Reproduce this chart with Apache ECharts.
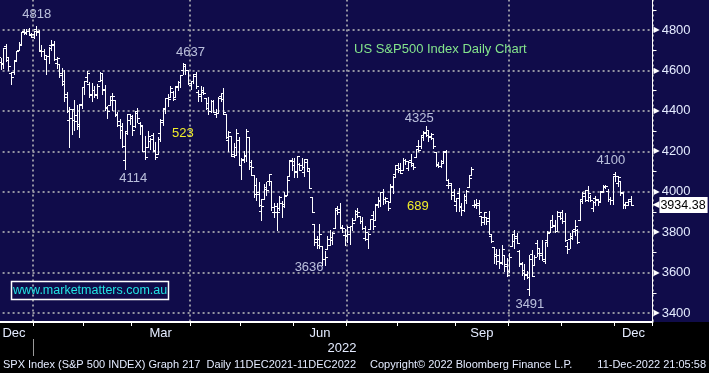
<!DOCTYPE html>
<html><head><meta charset="utf-8">
<script src="https://cdn.jsdelivr.net/npm/echarts@6/dist/echarts.min.js"></script>
<style>
html,body{margin:0;padding:0;width:709px;height:373px;overflow:hidden;background:linear-gradient(to bottom,#100c4a 0px,#100c4a 322px,#000 322px,#000 100%);}
#c{width:709px;height:373px;}
</style></head><body><div id="c"></div>
<script>
// ---------- DATA (SPX daily OHLC) ----------
const dates = [
 '2021-12-13','2021-12-14','2021-12-15','2021-12-16','2021-12-17','2021-12-20','2021-12-21','2021-12-22','2021-12-23','2021-12-27','2021-12-28','2021-12-29','2021-12-30','2021-12-31',
 '2022-01-03','2022-01-04','2022-01-05','2022-01-06','2022-01-07','2022-01-10','2022-01-11','2022-01-12','2022-01-13','2022-01-14','2022-01-18','2022-01-19','2022-01-20','2022-01-21','2022-01-24','2022-01-25','2022-01-26','2022-01-27','2022-01-28','2022-01-31',
 '2022-02-01','2022-02-02','2022-02-03','2022-02-04','2022-02-07','2022-02-08','2022-02-09','2022-02-10','2022-02-11','2022-02-14','2022-02-15','2022-02-16','2022-02-17','2022-02-18','2022-02-22','2022-02-23','2022-02-24','2022-02-25','2022-02-28',
 '2022-03-01','2022-03-02','2022-03-03','2022-03-04','2022-03-07','2022-03-08','2022-03-09','2022-03-10','2022-03-11','2022-03-14','2022-03-15','2022-03-16','2022-03-17','2022-03-18','2022-03-21','2022-03-22','2022-03-23','2022-03-24','2022-03-25','2022-03-28','2022-03-29','2022-03-30','2022-03-31',
 '2022-04-01','2022-04-04','2022-04-05','2022-04-06','2022-04-07','2022-04-08','2022-04-11','2022-04-12','2022-04-13','2022-04-14','2022-04-18','2022-04-19','2022-04-20','2022-04-21','2022-04-22','2022-04-25','2022-04-26','2022-04-27','2022-04-28','2022-04-29',
 '2022-05-02','2022-05-03','2022-05-04','2022-05-05','2022-05-06','2022-05-09','2022-05-10','2022-05-11','2022-05-12','2022-05-13','2022-05-16','2022-05-17','2022-05-18','2022-05-19','2022-05-20','2022-05-23','2022-05-24','2022-05-25','2022-05-26','2022-05-27','2022-05-31',
 '2022-06-01','2022-06-02','2022-06-03','2022-06-06','2022-06-07','2022-06-08','2022-06-09','2022-06-10','2022-06-13','2022-06-14','2022-06-15','2022-06-16','2022-06-17','2022-06-21','2022-06-22','2022-06-23','2022-06-24','2022-06-27','2022-06-28','2022-06-29','2022-06-30',
 '2022-07-01','2022-07-05','2022-07-06','2022-07-07','2022-07-08','2022-07-11','2022-07-12','2022-07-13','2022-07-14','2022-07-15','2022-07-18','2022-07-19','2022-07-20','2022-07-21','2022-07-22','2022-07-25','2022-07-26','2022-07-27','2022-07-28','2022-07-29',
 '2022-08-01','2022-08-02','2022-08-03','2022-08-04','2022-08-05','2022-08-08','2022-08-09','2022-08-10','2022-08-11','2022-08-12','2022-08-15','2022-08-16','2022-08-17','2022-08-18','2022-08-19','2022-08-22','2022-08-23','2022-08-24','2022-08-25','2022-08-26','2022-08-29','2022-08-30','2022-08-31',
 '2022-09-01','2022-09-02','2022-09-06','2022-09-07','2022-09-08','2022-09-09','2022-09-12','2022-09-13','2022-09-14','2022-09-15','2022-09-16','2022-09-19','2022-09-20','2022-09-21','2022-09-22','2022-09-23','2022-09-26','2022-09-27','2022-09-28','2022-09-29','2022-09-30',
 '2022-10-03','2022-10-04','2022-10-05','2022-10-06','2022-10-07','2022-10-10','2022-10-11','2022-10-12','2022-10-13','2022-10-14','2022-10-17','2022-10-18','2022-10-19','2022-10-20','2022-10-21','2022-10-24','2022-10-25','2022-10-26','2022-10-27','2022-10-28','2022-10-31',
 '2022-11-01','2022-11-02','2022-11-03','2022-11-04','2022-11-07','2022-11-08','2022-11-09','2022-11-10','2022-11-11','2022-11-14','2022-11-15','2022-11-16','2022-11-17','2022-11-18','2022-11-21','2022-11-22','2022-11-23','2022-11-25','2022-11-28','2022-11-29','2022-11-30',
 '2022-12-01','2022-12-02','2022-12-05','2022-12-06','2022-12-07','2022-12-08','2022-12-09'
];
const futureDates = ['2022-12-12','2022-12-13','2022-12-14','2022-12-15','2022-12-16','2022-12-19','2022-12-20','2022-12-21'];

const opens = [
 4710,4642,4636,4719,4652,4587,4594,4650,4703,4733,4795,4788,4795,4776,
 4779,4804,4788,4694,4697,4655,4669,4728,4733,4637,4632,4588,4547,4471,4357,4367,4409,4381,4337,4431,
 4519,4567,4535,4482,4505,4480,4547,4553,4506,4412,4429,4456,4456,4385,4332,4325,4156,4298,4354,
 4363,4323,4401,4342,4327,4203,4223,4253,4280,4202,4188,4288,4346,4407,4462,4469,4494,4470,4522,4541,4603,4624,4600,
 4540,4547,4572,4495,4475,4495,4463,4437,4398,4449,4385,4390,4473,4490,4385,4255,4278,4187,4223,4254,
 4130,4160,4181,4270,4129,4081,4035,3991,3904,3963,4013,4052,4051,3900,3927,3919,3943,3929,3985,4077,4151,
 4150,4096,4137,4134,4096,4147,4101,3974,3838,3764,3764,3729,3665,3715,3734,3775,3821,3920,3913,3826,3785,
 3782,3792,3831,3859,3889,3880,3854,3771,3764,3818,3883,3860,3935,3955,3998,3965,3953,3951,4026,4087,
 4113,4105,4108,4155,4116,4155,4134,4170,4227,4226,4269,4290,4280,4273,4266,4195,4134,4126,4153,4198,4034,4041,4000,
 3936,3994,3930,3909,3959,4022,4084,3932,3941,3932,3880,3849,3876,3871,3782,3727,3682,3687,3651,3687,3633,
 3610,3733,3754,3772,3707,3647,3596,3591,3520,3690,3638,3747,3695,3689,3657,3762,3799,3825,3834,3808,3881,
 3901,3853,3733,3767,3780,3817,3810,3859,3963,3977,4007,3976,3920,3967,3957,3956,4001,4024,4005,3964,3957,
 4087,4041,4053,3996,3934,3947,3954
];
const highs = [
 4710,4660,4710,4731,4666,4590,4651,4697,4740,4791,4807,4804,4808,4787,
 4797,4819,4798,4725,4707,4673,4714,4749,4744,4666,4632,4612,4602,4494,4417,4411,4454,4428,4432,4516,
 4546,4595,4542,4540,4521,4531,4590,4588,4527,4426,4472,4490,4456,4395,4362,4341,4295,4385,4385,
 4378,4401,4416,4343,4327,4277,4299,4268,4292,4247,4271,4358,4412,4465,4481,4522,4500,4521,4546,4575,4637,4627,4603,
 4547,4583,4593,4503,4521,4520,4464,4471,4453,4452,4411,4471,4489,4513,4386,4299,4278,4241,4308,4270,
 4169,4200,4308,4270,4158,4081,4068,4050,3965,4038,4047,4089,4051,3945,3944,3981,3955,3999,4076,4158,4168,
 4167,4177,4143,4169,4164,4160,4119,3975,3838,3779,3838,3729,3707,3779,3810,3802,3913,3928,3946,3836,3818,
 3829,3832,3871,3910,3919,3880,3874,3832,3796,3863,3903,3939,3974,3999,4013,3975,3953,4039,4078,4131,
 4144,4141,4168,4161,4151,4187,4135,4211,4258,4280,4301,4325,4302,4292,4266,4196,4149,4156,4200,4204,4062,4044,4015,
 3970,4018,3942,3987,4010,4076,4120,3957,3962,3959,3880,3900,3877,3907,3790,3727,3716,3717,3736,3687,3672,
 3698,3791,3812,3797,3711,3653,3641,3609,3685,3713,3689,3762,3719,3762,3753,3804,3862,3886,3859,3905,3893,
 3911,3894,3751,3796,3813,3860,3818,3958,4001,4009,4028,3983,3954,3979,3962,4004,4034,4034,4012,3976,4080,
 4100,4080,4053,4001,3951,3966,3977
];
const lows = [
 4667,4606,4612,4647,4600,4531,4584,4645,4703,4733,4780,4778,4775,4766,
 4759,4774,4699,4671,4663,4582,4638,4703,4650,4614,4568,4530,4450,4395,4223,4287,4305,4309,4273,4415,
 4483,4544,4470,4451,4471,4465,4547,4484,4402,4364,4429,4405,4373,4327,4268,4221,4114,4287,4335,
 4279,4322,4345,4284,4199,4161,4223,4210,4200,4161,4188,4251,4330,4390,4425,4469,4456,4468,4501,4517,4581,4581,4531,
 4508,4540,4514,4450,4450,4484,4408,4382,4392,4392,4370,4390,4449,4384,4267,4200,4175,4171,4188,4132,
 4062,4145,4153,4114,4081,3975,3959,3928,3859,3963,3982,4034,3912,3877,3810,3909,3875,3925,3985,4077,4105,
 4073,4074,4107,4110,4080,4107,4017,3901,3734,3722,3723,3639,3636,3715,3734,3743,3821,3889,3820,3799,3738,
 3752,3742,3809,3859,3873,3847,3818,3759,3721,3817,3818,3860,3924,3927,3938,3944,3910,3951,3993,4080,
 4097,4092,4108,4135,4107,4128,4114,4170,4201,4218,4257,4277,4253,4263,4218,4129,4124,4120,4147,4057,4017,3965,3954,
 3903,3907,3886,3907,3945,4022,4084,3922,3917,3888,3837,3839,3838,3789,3749,3647,3644,3623,3641,3610,3584,
 3604,3733,3723,3745,3631,3588,3568,3574,3491,3584,3638,3680,3666,3664,3647,3733,3799,3824,3803,3808,3863,
 3843,3758,3699,3721,3764,3786,3744,3859,3944,3956,3953,3955,3906,3933,3933,3956,3998,4020,3955,3937,3940,
 4051,4026,3984,3918,3918,3935,3933
];
const closes = [
 4668,4634,4709,4668,4620,4568,4649,4697,4725,4791,4786,4793,4778,4766,
 4797,4794,4701,4696,4677,4670,4713,4726,4659,4663,4577,4533,4483,4398,4410,4357,4350,4327,4432,4516,
 4546,4589,4477,4501,4484,4522,4587,4504,4419,4401,4472,4475,4380,4349,4305,4225,4288,4385,4374,
 4306,4387,4363,4329,4201,4171,4278,4260,4204,4173,4262,4357,4412,4463,4461,4512,4457,4520,4543,4575,4632,4602,4530,
 4546,4583,4525,4481,4501,4488,4413,4397,4447,4392,4391,4463,4459,4394,4272,4296,4175,4183,4288,4132,
 4155,4175,4300,4147,4123,3991,4001,3935,3930,4024,4008,4089,3924,3901,3901,3974,3941,3979,4058,4158,4132,
 4101,4176,4109,4121,4161,4116,4018,3901,3750,3735,3790,3667,3675,3765,3760,3796,3912,3901,3821,3819,3785,
 3825,3831,3845,3903,3899,3855,3819,3801,3790,3863,3831,3937,3959,3999,3962,3967,3921,4024,4073,4130,
 4119,4091,4155,4152,4145,4140,4122,4210,4207,4280,4297,4305,4275,4284,4228,4138,4128,4141,4200,4057,4031,3986,3955,
 3967,3924,3908,3980,4006,4067,4110,3932,3946,3901,3873,3899,3856,3790,3758,3693,3655,3647,3719,3640,3586,
 3678,3791,3783,3745,3640,3612,3589,3577,3669,3583,3677,3720,3695,3666,3753,3797,3859,3830,3808,3901,3872,
 3856,3760,3719,3771,3807,3828,3749,3956,3993,3957,3992,3959,3947,3965,3950,4003,4027,4026,3964,3958,4080,
 4077,4072,3999,3941,3933,3963,3934.38
];

// y-axis tick values
const yMin = 3200, yMax = 5000, yStep = 200;

// Annotated highs / lows
const annoDates  = ['2022-01-04','2022-03-29','2022-02-24','2022-06-17','2022-08-16','2022-10-13','2022-12-01'];
const annoValues = [4818, 4637, 4114, 3636, 4325, 3491, 4100];

// Move sizes
const moveTexts = ['523', '689'];

const monthNames = {'01':'Jan','02':'Feb','03':'Mar','04':'Apr','05':'May','06':'Jun','07':'Jul','08':'Aug','09':'Sep','10':'Oct','11':'Nov','12':'Dec'};
const labelMonths = ['12','03','06','09'];
const quarterMonths = ['01','04','07','10'];

// ---------- STYLES / LAYOUT ----------
const FONT = '"Liberation Sans", Arial, sans-serif';
const TXT = '#e4ebff';
const GRIDC = '#9494a2';
const PX_PER_UNIT = 283 / 1400;           // 4800 at y=30, 3400 at y=313
const gridTop = 30 - (yMax - 4800) * PX_PER_UNIT;
const gridBottomY = 313 + (3400 - yMin) * PX_PER_UNIT;
const axisY = 322;

const annoStyle = [
  {position:'top', distance:5, offset:[0,0]},
  {position:'top', distance:4, offset:[7,0]},
  {position:'bottom', distance:3, offset:[8,0]},
  {position:'left', distance:1, offset:[0,2]},
  {position:'top', distance:1, offset:[-7,0]},
  {position:'bottom', distance:3, offset:[0,0]},
  {position:'top', distance:4, offset:[-5,0]}
];

// ---------- BUILD ----------
const axisDates = dates.concat(futureDates);
const mOf = d => d.slice(5,7);
const ymOf = d => d.slice(0,7);
const monthStarts = new Set();
const quarterStarts = new Set();
const groups = {};
axisDates.forEach((d,i) => {
  (groups[ymOf(d)] = groups[ymOf(d)] || []).push(i);
  if (i > 0 && ymOf(d) !== ymOf(axisDates[i-1])) {
    monthStarts.add(i);
    if (quarterMonths.includes(mOf(d))) quarterStarts.add(i);
  }
});
const labelIdx = new Set();
Object.keys(groups).forEach(k => {
  if (labelMonths.includes(k.slice(5,7))) {
    const g = groups[k];
    labelIdx.add(g[Math.floor((g.length - 1) / 2)]);
  }
});

const ohlc = dates.map((d,i) => [i, opens[i], highs[i], lows[i], closes[i]]);

function renderItem(params, api) {
  const idx = api.value(0);
  const pH = api.coord([idx, api.value(2)]);
  const pL = api.coord([idx, api.value(3)]);
  const yO = Math.round(api.coord([idx, api.value(1)])[1]);
  const yC = Math.round(api.coord([idx, api.value(4)])[1]);
  const cx = Math.floor(pH[0]);
  const yH = Math.round(pH[1]), yL = Math.round(pL[1]);
  const st = {fill:'#ffffff'};
  return {type:'group', children:[
    {type:'rect', shape:{x:cx, y:yH, width:1, height:Math.max(1, yL - yH + 1)}, style:st},
    {type:'rect', shape:{x:cx-2, y:yO, width:2, height:1}, style:st},
    {type:'rect', shape:{x:cx+1, y:yC, width:2, height:1}, style:st}
  ]};
}

const chart = echarts.init(document.getElementById('c'), null, {renderer:'canvas'});
const lastClose = closes[closes.length - 1];

chart.setOption({
  animation:false,
  backgroundColor:'transparent',
  textStyle:{fontFamily:FONT},
  grid:{left:-2.4, right:56.5, top:gridTop, bottom:373 - gridBottomY, containLabel:false, outerBoundsMode:'none'},
  xAxis:[
    {type:'category', data:axisDates, boundaryGap:true, z:0,
     axisLine:{show:false}, axisTick:{show:false}, axisLabel:{show:false},
     splitLine:{show:true, interval:(i)=>quarterStarts.has(i), lineStyle:{color:GRIDC, width:2, type:[2,3]}}},
    {type:'category', data:axisDates, boundaryGap:true, position:'bottom', offset:-(gridBottomY - axisY), z:100,
     axisLine:{show:true, onZero:false, lineStyle:{color:'#ffffff', width:2}},
     axisTick:{show:true, interval:(i)=>monthStarts.has(i), length:4, lineStyle:{color:'#ffffff', width:1}},
     axisLabel:{show:true, interval:(i)=>labelIdx.has(i), formatter:(v)=>monthNames[mOf(v)], color:TXT, fontSize:13, fontFamily:FONT, margin:5},
     splitLine:{show:false}}
  ],
  yAxis:{type:'value', position:'right', min:yMin, max:yMax, interval:yStep, z:0,
    axisLine:{show:true, lineStyle:{color:'#ffffff', width:1}},
    axisTick:{show:false},
    minorTick:{show:true, splitNumber:2, length:4, lineStyle:{color:'#ffffff', width:1}},
    minorSplitLine:{show:false},
    splitLine:{show:true, lineStyle:{color:GRIDC, width:2, type:[2,3]}},
    axisLabel:{margin:1, formatter:(v)=>'{t|\u25B6}{v|' + v + '}',
      rich:{t:{fontSize:8, color:'#ffffff', fontFamily:'DejaVu Sans', padding:[0,2,0,0]}, v:{fontSize:13, color:TXT, fontFamily:FONT}}}
  },
  series:[
    {type:'custom', name:'SPX', xAxisIndex:0, yAxisIndex:0, data:ohlc, encode:{x:0, y:[1,2,3,4]}, renderItem, z:2},
    {type:'scatter', xAxisIndex:0, yAxisIndex:0, symbolSize:1, itemStyle:{color:'rgba(0,0,0,0)'}, z:3, silent:true,
     data: annoDates.map((d,i)=>({value:[axisDates.indexOf(d), annoValues[i]], label:annoStyle[i]})),
     label:{show:true, formatter:(p)=>String(p.value[1]), color:TXT, fontSize:13, fontFamily:FONT},
     markLine:{silent:true, symbol:['none','none'], lineStyle:{color:'rgba(0,0,0,0)', width:0},
       data:[{yAxis:lastClose}],
       label:{show:true, position:'end', distance:0, formatter:()=>'{a|\u25C0}{b|' + lastClose.toFixed(2) + '}',
         rich:{a:{color:'#ffffff', fontSize:9, fontFamily:'DejaVu Sans'}, b:{backgroundColor:'#ffffff', color:'#000000', fontSize:12.5, fontFamily:FONT, padding:[2,2,1,1]}}}}
    }
  ],
  graphic:{elements:[
    {type:'rect', z:50, silent:true, shape:{x:0, y:323, width:709, height:50}, style:{fill:'#000000'}},
    {type:'line', z:60, silent:true, shape:{x1:33.5, y1:339, x2:33.5, y2:356}, style:{stroke:'#9a9a9a', lineWidth:1}},
    {type:'text', z:60, silent:true, style:{text:'2022', x:342, y:348, align:'center', verticalAlign:'middle', fill:TXT, font:'13px ' + FONT}},
    {type:'text', z:60, silent:true, style:{text:'SPX Index (S&P 500 INDEX) Graph 217  Daily 11DEC2021-11DEC2022', x:3, y:365, verticalAlign:'middle', fill:TXT, font:'11px ' + FONT}},
    {type:'text', z:60, silent:true, style:{text:'Copyright\u00A9 2022 Bloomberg Finance L.P.', x:370, y:365, verticalAlign:'middle', fill:TXT, font:'11px ' + FONT}},
    {type:'text', z:60, silent:true, style:{text:'11-Dec-2022 21:05:58', x:706, y:365, align:'right', verticalAlign:'middle', fill:TXT, font:'11px ' + FONT}},
    {type:'text', z:60, silent:true, style:{text:'US S&P500 Index Daily Chart', x:354, y:49, verticalAlign:'middle', fill:'#84e48c', font:'13px ' + FONT}},
    {type:'rect', z:60, silent:true, shape:{x:11.5, y:281.5, width:157, height:18}, style:{fill:null, stroke:'#ffffff', lineWidth:1.5}},
    {type:'text', z:60, silent:true, style:{text:'www.marketmatters.com.au', x:13, y:290.5, verticalAlign:'middle', fill:'#22e3e3', font:'12.5px ' + FONT}},
    {type:'text', z:60, silent:true, style:{text:moveTexts[0], x:172, y:133, verticalAlign:'middle', fill:'#f2ef2a', font:'13px ' + FONT}},
    {type:'text', z:60, silent:true, style:{text:moveTexts[1], x:407, y:206, verticalAlign:'middle', fill:'#f2ef2a', font:'13px ' + FONT}}
  ]}
});
</script></body></html>
